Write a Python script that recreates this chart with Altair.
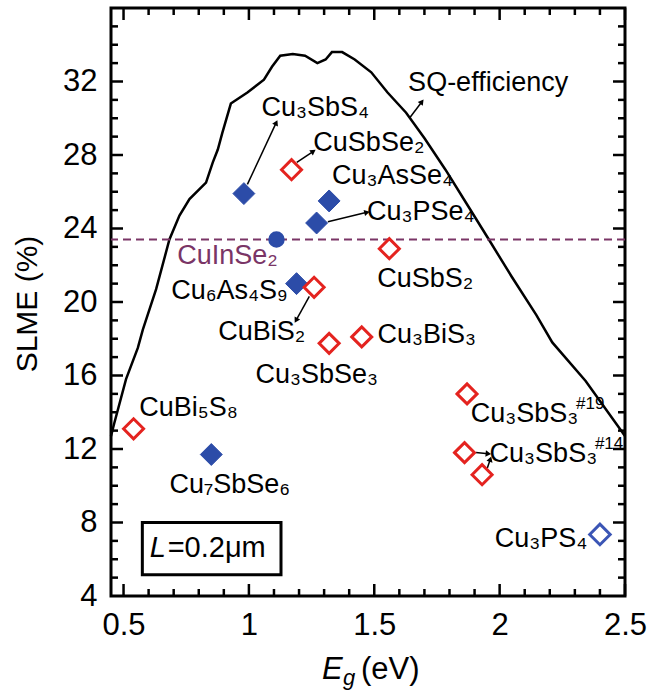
import math
import altair as alt
import pandas as pd

FONT = "Liberation Sans, Arial, Helvetica, sans-serif"
W, H = 514, 588
BLUE = "#2c4ca8"
RED = "#e4231f"
PURPLE = "#7a3566"
LFS = 27  # label font size

# ---------------- data ----------------
# Shockley-Queisser efficiency curve
sq_eg = [0.45, 0.463, 0.51, 0.557, 0.577, 0.63, 0.683, 0.723, 0.763, 0.829, 0.856, 0.876,
         0.894, 0.928, 0.994, 1.06, 1.092, 1.125, 1.175, 1.224, 1.273, 1.306, 1.331, 1.372,
         1.422, 1.488, 1.553, 1.627, 1.701, 1.784, 1.866, 1.957, 2.047, 2.146, 2.21, 2.343,
         2.49, 2.5]
sq_slme = [12.7, 13.4, 15.8, 17.5, 18.5, 20.7, 23.4, 24.7, 25.6, 26.5, 27.6, 28.3,
           29.2, 30.8, 31.4, 32.1, 32.8, 33.4, 33.5, 33.4, 33.0, 33.2, 33.6, 33.6,
           33.2, 32.5, 31.4, 30.3, 28.9, 27.2, 25.4, 23.4, 21.4, 19.3, 17.8, 15.7,
           12.9, 12.7]

# compounds
pt_name = ["Cu3SbS4", "Cu3AsSe4", "Cu3PSe4", "Cu6As4S9", "Cu7SbSe6", "CuInSe2",
           "CuSbSe2", "CuSbS2", "CuBiS2", "Cu3SbSe3", "Cu3BiS3", "CuBi5S8",
           "Cu3SbS3#19", "Cu3SbS3#14a", "Cu3SbS3#14b", "Cu3PS4"]
pt_eg = [0.98, 1.32, 1.27, 1.19, 0.85, 1.11,
         1.17, 1.56, 1.26, 1.32, 1.45, 0.54,
         1.87, 1.86, 1.93, 2.40]
pt_slme = [25.9, 25.5, 24.3, 21.0, 11.7, 23.4,
           27.2, 22.9, 20.8, 17.75, 18.1, 13.1,
           15.0, 11.8, 10.6, 7.35]
pt_kind = ["filled", "filled", "filled", "filled", "filled", "circle",
           "open_red", "open_red", "open_red", "open_red", "open_red", "open_red",
           "open_red", "open_red", "open_red", "open_blue"]

cuinse2_level = [23.4]

# text labels
lab_text = ["SQ-efficiency", "Cu₃SbS₄", "CuSbSe₂", "Cu₃AsSe₄", "Cu₃PSe₄", "CuSbS₂",
            "Cu₆As₄S₉", "CuBiS₂", "Cu₃BiS₃", "Cu₃SbSe₃", "CuBi₅S₈", "Cu₇SbSe₆",
            "Cu₃SbS₃", "Cu₃SbS₃", "Cu₃PS₄"]
lab_x = [1.635, 1.05, 1.257, 1.331, 1.471, 1.512, 0.69, 0.878, 1.513, 1.026, 0.563, 0.683,
         1.885, 1.96, 2.35]
lab_y = [31.9, 30.55, 28.67, 26.83, 24.88, 21.23, 20.59, 18.37, 18.22, 16.04, 14.22, 10.05,
         13.92, 11.74, 7.11]
lab_align = ["left"] * 14 + ["right"]

sup_text = ["#19", "#14"]
sup_x = [2.305, 2.38]
sup_y = [14.45, 12.27]

purple_text = ["CuInSe₂"]
purple_x = [0.714]
purple_y = [22.49]

# arrows (tail -> head)
ar_x1 = [1.64, 0.994, 1.191, 1.315, 1.241, 1.905, 1.951]
ar_y1 = [30.0, 26.4, 27.6, 24.37, 20.3, 11.81, 10.96]
ar_x2 = [1.69, 1.109, 1.257, 1.471, 1.188, 1.955, 1.963]
ar_y2 = [30.9, 29.76, 28.2, 24.88, 19.0, 11.74, 11.45]

# thickness box annotation
box_x = [0.575]
box_x2 = [1.128]
box_y = [5.16]
box_y2 = [8.0]

# axis ticks
x_major = [0.5, 1.0, 1.5, 2.0, 2.5]
x_minor = [0.6, 0.7, 0.8, 0.9, 1.1, 1.2, 1.3, 1.4, 1.6, 1.7, 1.8, 1.9, 2.1, 2.2, 2.3, 2.4]
y_major = [8, 12, 16, 20, 24, 28, 32]
y_minor = [5, 6, 7, 9, 10, 11, 13, 14, 15, 17, 18, 19, 21, 22, 23, 25, 26, 27,
           29, 30, 31, 33, 34, 35]
y_labels = [4, 8, 12, 16, 20, 24, 28, 32]

# ---------------- chart ----------------
xs = alt.Scale(domain=[0.45, 2.5], nice=False, zero=False)
ys = alt.Scale(domain=[4, 36], nice=False, zero=False)

x_axis = alt.Axis(values=x_major, format="~g", ticks=False, domain=False, grid=False,
                  labelFont=FONT, labelFontSize=31, labelPadding=14, labelFlush=False,
                  labelColor="black", title=None)
y_axis = alt.Axis(values=y_labels, format="~g", ticks=False, domain=False, grid=False,
                  labelFont=FONT, labelFontSize=31, labelPadding=14, labelFlush=False,
                  labelColor="black", title=None)


def X(f):
    return alt.X(f, type="quantitative", scale=xs, axis=x_axis)


def Y(f):
    return alt.Y(f, type="quantitative", scale=ys, axis=y_axis)


sq_df = pd.DataFrame({"eg": sq_eg, "slme": sq_slme, "i": range(len(sq_eg))})
sq_line = alt.Chart(sq_df).mark_line(color="black", strokeWidth=2.5).encode(
    x=X("eg"), y=Y("slme"), order="i:Q")

dash = alt.Chart(pd.DataFrame({"v": cuinse2_level})).mark_rule(
    color=PURPLE, strokeWidth=2, strokeDash=[8, 5]).encode(y=Y("v"))


# inward ticks on all four sides
def tick_layer(vals, axis_ch, length):
    df = pd.DataFrame({"v": vals})
    c = alt.Chart(df).mark_rule(color="black", strokeWidth=2.5)
    if axis_ch == "x":
        bottom = c.encode(x=X("v"), y=alt.value(H), y2=alt.value(H - length))
        top = c.encode(x=X("v"), y=alt.value(0), y2=alt.value(length))
        return [bottom, top]
    left = c.encode(y=Y("v"), x=alt.value(0), x2=alt.value(length))
    right = c.encode(y=Y("v"), x=alt.value(W), x2=alt.value(W - length))
    return [left, right]


ticks = (tick_layer(x_major, "x", 12) + tick_layer(x_minor, "x", 7)
         + tick_layer(y_major, "y", 12) + tick_layer(y_minor, "y", 7))

pts = pd.DataFrame({"name": pt_name, "eg": pt_eg, "slme": pt_slme, "kind": pt_kind})
base = alt.Chart(pts)
filled = base.transform_filter("datum.kind == 'filled'").mark_point(
    shape="diamond", filled=True, fill=BLUE, stroke=BLUE, strokeWidth=1, size=480, opacity=1
).encode(x=X("eg"), y=Y("slme"))
circle = base.transform_filter("datum.kind == 'circle'").mark_point(
    shape="circle", filled=True, fill=BLUE, stroke=BLUE, size=210, opacity=1
).encode(x=X("eg"), y=Y("slme"))
open_red = base.transform_filter("datum.kind == 'open_red'").mark_point(
    shape="diamond", filled=True, fill="white", stroke=RED, strokeWidth=3, size=400, opacity=1
).encode(x=X("eg"), y=Y("slme"))
open_blue = base.transform_filter("datum.kind == 'open_blue'").mark_point(
    shape="diamond", filled=True, fill="white", stroke="#3b55b5", strokeWidth=3, size=420, opacity=1
).encode(x=X("eg"), y=Y("slme"))

# arrows
px_per_x = W / 2.05
px_per_y = H / 32.0
ang = []
for a, b, c2, d in zip(ar_x1, ar_y1, ar_x2, ar_y2):
    dxp = (c2 - a) * px_per_x
    dyp = -(d - b) * px_per_y
    ang.append(math.degrees(math.atan2(dxp, -dyp)) % 360)
ar_df = pd.DataFrame({"x1": ar_x1, "y1": ar_y1, "x2": ar_x2, "y2": ar_y2, "ang": ang})
ar_lines = alt.Chart(ar_df).mark_rule(color="black", strokeWidth=1.5).encode(
    x=X("x1"), y=Y("y1"), x2="x2:Q", y2="y2:Q")
ar_heads = alt.Chart(ar_df).mark_point(
    shape="triangle-up", filled=True, color="black", size=40, opacity=1).encode(
    x=X("x2"), y=Y("y2"), angle=alt.Angle("ang:Q", scale=None))

lab_df = pd.DataFrame({"t": lab_text, "x": lab_x, "y": lab_y, "a": lab_align})
labels_left = alt.Chart(lab_df).transform_filter("datum.a == 'left'").mark_text(
    align="left", baseline="middle", font=FONT, fontSize=LFS, color="black").encode(
    x=X("x"), y=Y("y"), text="t:N")
labels_right = alt.Chart(lab_df).transform_filter("datum.a == 'right'").mark_text(
    align="right", baseline="middle", font=FONT, fontSize=LFS, color="black").encode(
    x=X("x"), y=Y("y"), text="t:N")
sups = alt.Chart(pd.DataFrame({"t": sup_text, "x": sup_x, "y": sup_y})).mark_text(
    align="left", baseline="middle", font=FONT, fontSize=17, color="black").encode(
    x=X("x"), y=Y("y"), text="t:N")
purple_lab = alt.Chart(pd.DataFrame({"t": purple_text, "x": purple_x, "y": purple_y})).mark_text(
    align="left", baseline="middle", font=FONT, fontSize=LFS, color=PURPLE).encode(
    x=X("x"), y=Y("y"), text="t:N")

box = alt.Chart(pd.DataFrame({"x": box_x, "x2": box_x2, "y": box_y, "y2": box_y2})).mark_rect(
    fill="white", stroke="black", strokeWidth=3).encode(x=X("x"), x2="x2:Q", y=Y("y"), y2="y2:Q")
box_L = alt.Chart(pd.DataFrame({"t": ["L"], "x": [0.605], "y": [6.62]})).mark_text(
    align="left", baseline="middle", font=FONT, fontSize=29, fontStyle="italic", color="black").encode(
    x=X("x"), y=Y("y"), text="t:N")
box_rest = alt.Chart(pd.DataFrame({"t": ["=0.2μm"], "x": [0.676], "y": [6.62]})).mark_text(
    align="left", baseline="middle", font=FONT, fontSize=29, color="black").encode(
    x=X("x"), y=Y("y"), text="t:N")

# axis titles
one = pd.DataFrame({"t": ["SLME (%)"]})
ytitle = alt.Chart(one).mark_text(angle=270, align="center", baseline="middle", font=FONT,
                                  fontSize=30, color="black").encode(
    x=alt.value(-83), y=alt.value(296), text="t:N")
xt_E = alt.Chart(pd.DataFrame({"t": ["E"]})).mark_text(
    align="left", baseline="middle", font=FONT, fontSize=31, fontStyle="italic", color="black").encode(
    x=alt.value(211), y=alt.value(662), text="t:N")
xt_g = alt.Chart(pd.DataFrame({"t": ["g"]})).mark_text(
    align="left", baseline="middle", font=FONT, fontSize=22, fontStyle="italic", color="black").encode(
    x=alt.value(232), y=alt.value(670), text="t:N")
xt_rest = alt.Chart(pd.DataFrame({"t": ["(eV)"]})).mark_text(
    align="left", baseline="middle", font=FONT, fontSize=31, color="black").encode(
    x=alt.value(250), y=alt.value(662), text="t:N")

chart = alt.layer(
    sq_line, dash, *ticks, ar_lines, ar_heads, filled, circle, open_red, open_blue,
    labels_left, labels_right, sups, purple_lab, box, box_L, box_rest,
    ytitle, xt_E, xt_g, xt_rest
).properties(
    width=W, height=H,
    autosize=alt.AutoSizeParams(type="none"),
    padding={"left": 111, "top": 8, "right": 24, "bottom": 95},
    background="white",
).configure_view(stroke="black", strokeWidth=3)

chart.save("out.html", embed_options={"renderer": "svg", "actions": False})
